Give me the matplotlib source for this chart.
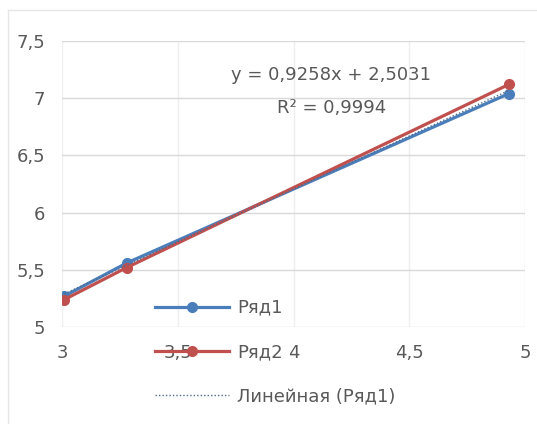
import matplotlib
matplotlib.use('Agg')
import matplotlib.pyplot as plt
import numpy as np
from matplotlib.lines import Line2D

# data
x1 = [3.01, 3.28, 4.93]
y1 = [5.27, 5.56, 7.04]
x2 = [3.01, 3.28, 4.93]
y2 = [5.24, 5.52, 7.12]
trend_k, trend_b = 0.9258, 2.5031

xticks = [3, 3.5, 4, 4.5, 5]
xlabels = ['3', '3,5', '4', '4,5', '5']
yticks = [5, 5.5, 6, 6.5, 7, 7.5]
ylabels = ['5', '5,5', '6', '6,5', '7', '7,5']

plt.rcParams['font.family'] = ['DejaVu Sans']
txt = '#595959'
blue = '#4A7EBB'
red = '#C0504D'

fig = plt.figure(figsize=(5.37, 4.24), dpi=100)
ax = fig.add_axes([62/537, 1-327/424, 463/537, 286/424])

# faint chart-area border
fig.add_artist(Line2D([8/537, 1.0], [1-10/424, 1-10/424], color='#E6E6E6', lw=1))
fig.add_artist(Line2D([8/537, 8/537], [0.0, 1-10/424], color='#E6E6E6', lw=1))

ax.plot(x1, y1, color=blue, lw=2.3, marker='o', ms=7, label='Ряд1', zorder=3)
ax.plot(x2, y2, color=red, lw=2.3, marker='o', ms=7, label='Ряд2', zorder=3)
tx = np.array([min(x1), max(x1)])
ax.plot(tx, trend_k*tx + trend_b, color='#4F6A8A', lw=1, ls=(0, (1, 1.5)),
        label='Линейная (Ряд1)', zorder=4)

ax.set_xlim(3, 5)
ax.set_ylim(5, 7.5)
ax.set_xticks(xticks)
ax.set_xticklabels(xlabels)
ax.set_yticks(yticks)
ax.set_yticklabels(ylabels)
ax.grid(True, axis='y', color='#D9D9D9', lw=1)
ax.grid(True, axis='x', color='#EFEFEF', lw=1)
ax.set_axisbelow(True)
for s in ax.spines.values():
    s.set_visible(False)
ax.tick_params(length=0, labelsize=13, colors=txt)
ax.tick_params(axis='y', pad=12)
ax.tick_params(axis='x', pad=12)

ax.text(0.582, 0.88, 'y = 0,9258x + 2,5031', transform=ax.transAxes,
        ha='center', va='center', fontsize=13, color=txt)
ax.text(0.582, 0.765, 'R² = 0,9994', transform=ax.transAxes,
        ha='center', va='center', fontsize=13, color=txt)

fig.legend(loc='center left', bbox_to_anchor=(155/537, 1-352/424), frameon=False,
           fontsize=13, labelcolor=txt, handlelength=4.1, labelspacing=1.45,
           borderpad=0, borderaxespad=0, handletextpad=0.45)

plt.savefig('out.png', dpi=100)
